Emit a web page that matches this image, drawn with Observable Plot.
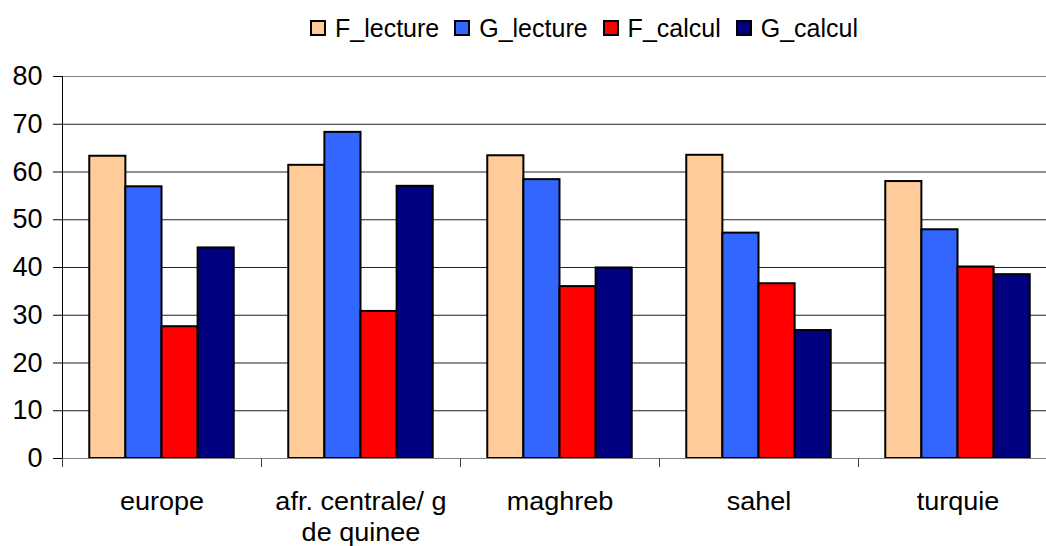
<!DOCTYPE html>
<html><head><meta charset="utf-8">
<script src="https://cdn.jsdelivr.net/npm/d3@7"></script>
<script src="https://cdn.jsdelivr.net/npm/@observablehq/plot@0.6"></script>
<style>
html,body{margin:0;padding:0;background:#fff;}
#wrap{position:relative;width:1046px;height:546px;overflow:hidden;font-family:"Liberation Sans",Arial,sans-serif;color:#000;background:#fff;}
#legend{position:absolute;left:310px;top:19px;display:flex;align-items:center;font-size:25px;line-height:18px;height:18px;white-space:nowrap;}
.sw{width:16px;height:16px;box-sizing:border-box;border:2px solid #000;margin-right:9px;flex:none;}
.it{display:flex;align-items:center;margin-right:15px;}
#chart{position:absolute;left:0;top:50px;}
</style></head><body>
<div id="wrap"><div id="legend"></div><div id="chart"></div></div>
<script>
const categories = ["europe", "afr. centrale/ g de quinee", "maghreb", "sahel", "turquie"];
const categoryLabels = ["europe", "afr. centrale/ g\nde quinee", "maghreb", "sahel", "turquie"];
const series = ["F_lecture", "G_lecture", "F_calcul", "G_calcul"];
const seriesColors = ["#FFCC99", "#3366FF", "#FF0000", "#000080"];
const F_lecture = [63.3, 61.4, 63.4, 63.5, 58.0];
const G_lecture = [56.9, 68.3, 58.4, 47.2, 47.9];
const F_calcul = [27.6, 30.8, 36.0, 36.6, 40.1];
const G_calcul = [44.1, 57.0, 39.9, 26.8, 38.5];
const yTicks = [0, 10, 20, 30, 40, 50, 60, 70, 80];

const seriesValues = {F_lecture, G_lecture, F_calcul, G_calcul};
const table = categories.map((c, i) => {
  const row = {category: c};
  series.forEach(s => row[s] = seriesValues[s][i]);
  return row;
});

// legend
const legend = document.getElementById("legend");
series.forEach((s, k) => {
  const it = document.createElement("div");
  it.className = "it";
  const sw = document.createElement("div");
  sw.className = "sw";
  sw.style.background = seriesColors[k];
  const t = document.createElement("span");
  t.textContent = s;
  it.appendChild(sw); it.appendChild(t);
  legend.appendChild(it);
});

const W = 1046, H = 496, ML = 62, MR = -11, MT = 26, MB = 88;
const step = (W - ML - MR) / categories.length;
const barW = step * 0.1815;
const gap = (step - series.length * barW) / 2;
const labelWiden = 1.04;

const barMarks = series.map((s, k) => Plot.barY(table, {
  x: "category", y: s, fill: seriesColors[k], stroke: "#000", strokeWidth: 2,
  insetLeft: gap + k * barW, insetRight: step - gap - (k + 1) * barW
}));

const chart = Plot.plot({
  width: W, height: H,
  marginLeft: ML, marginRight: MR, marginTop: MT, marginBottom: MB,
  style: {fontFamily: "'Liberation Sans', Arial, sans-serif", fontSize: "27px", color: "#000", background: "#fff", overflow: "hidden"},
  x: {domain: categories, padding: 0, axis: null},
  y: {domain: [0, 80], axis: null},
  marks: [
    Plot.gridY({ticks: yTicks.filter(v => v > 0 && v < 80), stroke: "#222", strokeOpacity: 1, strokeWidth: 1}),
    Plot.ruleY([80], {stroke: "#808080", strokeWidth: 1}),
    ...barMarks,
    Plot.ruleY([0], {stroke: "#808080", strokeWidth: 1}),
    Plot.frame({anchor: "left", insetBottom: -8, stroke: "#000", strokeWidth: 1}),
    Plot.axisY({ticks: yTicks, tickSize: 9, tickPadding: 11, fontSize: 27, label: null, stroke: "#000"}),
    Plot.axisX({ticks: categories, tickSize: 9, tickFormat: () => "", dx: -step / 2, label: null, stroke: "#444"}),
    Plot.axisX({ticks: categories, tickSize: 0, tickPadding: 30, fontSize: 26,
      tickFormat: c => categoryLabels[categories.indexOf(c)], lineHeight: 1.19, label: null})
  ]
});
// widen the category labels slightly, as in the reference rendering
chart.querySelectorAll('g[aria-label="x-axis tick label"] text').forEach(t => {
  const tr = t.getAttribute("transform") || "";
  t.setAttribute("transform", tr + ` scale(${labelWiden},1)`);
});
document.getElementById("chart").appendChild(chart);
</script>
</body></html>
